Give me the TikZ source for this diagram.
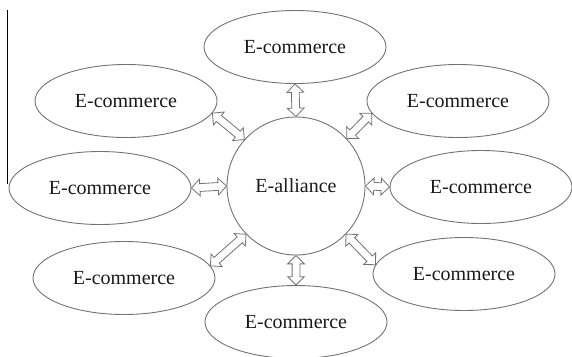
\documentclass[tikz,border=0pt]{standalone}
\usepackage{fontspec}
\setmainfont{Liberation Serif}
\usetikzlibrary{shapes.geometric,shapes.arrows,calc}

\tikzset{
  firm/.style={draw=black!55,line width=0.9pt,ellipse,inner sep=0pt,
    minimum width=182pt,minimum height=73pt,text=black!90,
    font=\fontsize{20}{24}\selectfont},
  hub/.style={draw=black!55,line width=0.9pt,circle,inner sep=0pt,
    minimum size=138pt,text=black!90,font=\fontsize{20}{24}\selectfont},
  link/.style={draw=black!55,line width=0.8pt,fill=white,double arrow,
    inner xsep=0pt,inner ysep=3.5pt,minimum width=0pt,
    double arrow head extend=4.5pt,double arrow head indent=0pt}
}

% double arrow between two border points
\newcommand\linkto[2]{%
  \path let \p2=(#1), \p3=(#2), \n1={atan2(\y3-\y2,\x3-\x2)},
    \n3={veclen(\x3-\x2,\y3-\y2)}
    in node[link,rotate=\n1,minimum height=\n3] at ($(\p2)!.5!(\p3)$) {};}

\begin{document}
\begin{tikzpicture}[x=1pt,y=-1pt]
  \useasboundingbox (0,0) rectangle (572,356);
  \draw[line width=0.9pt] (7,10) -- (7,184);

  \node[hub] (c) at (296,186) {E-alliance};

  \node[firm] (t) at (295,47) {E-commerce};
  \node[firm] (tl) at (126,101) {E-commerce};
  \node[firm] (tr) at (458,101) {E-commerce};
  \node[firm] (l) at (100,188) {E-commerce};
  \node[firm] (r) at (481,187) {E-commerce};
  \node[firm] (bl) at (124,278) {E-commerce};
  \node[firm] (br) at (464,274) {E-commerce};
  \node[firm] (b) at (296,322) {E-commerce};

  \linkto{c.90}{t.270}
  \linkto{c.138}{tl.-8}
  \linkto{c.43}{tr.188}
  \linkto{c.180}{l.0}
  \linkto{c.0}{r.180}
  \linkto{c.224}{bl.8}
  \linkto{c.-44}{br.174}
  \linkto{c.270}{b.90}
\end{tikzpicture}
\end{document}
